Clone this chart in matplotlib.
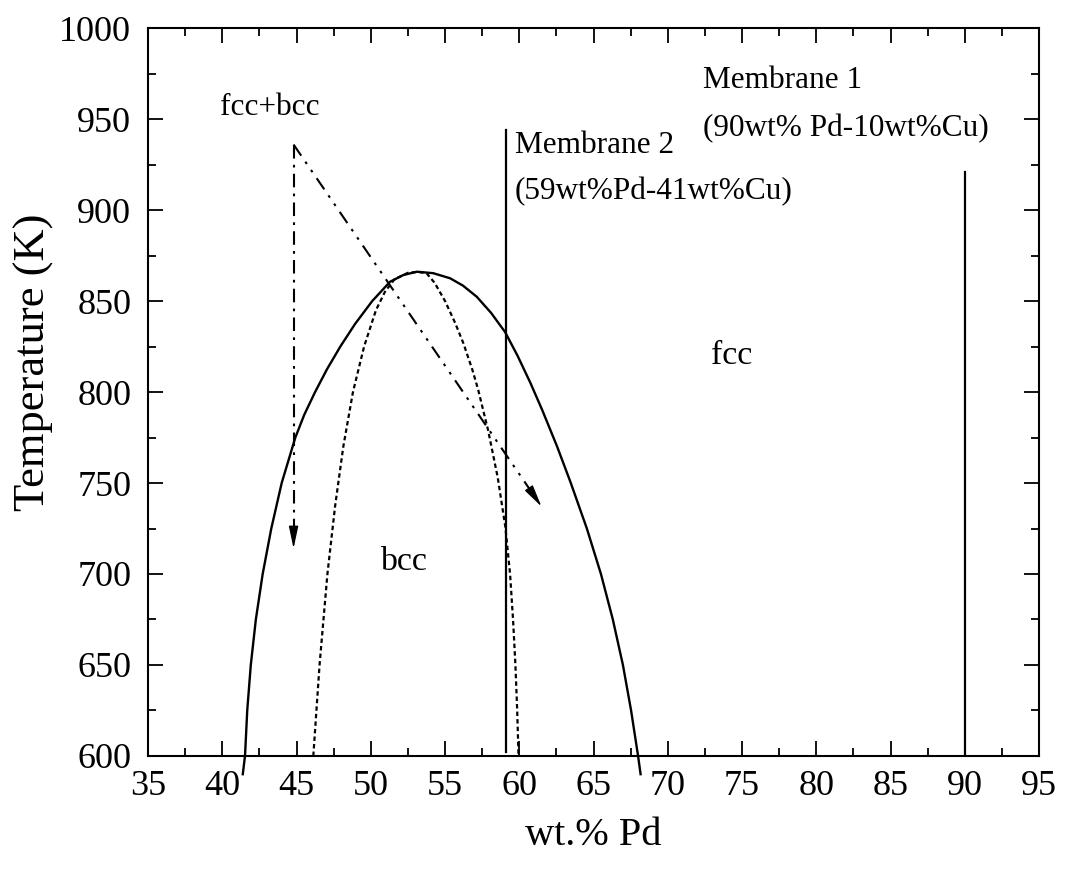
import matplotlib
matplotlib.use("Agg")
import matplotlib.pyplot as plt
from matplotlib.ticker import MultipleLocator

plt.rcParams['font.family'] = ['Liberation Serif', 'DejaVu Serif']

# Solid boundary curve (wt.% Pd, K)
solid_x = [41.38, 41.53, 41.68, 41.92, 42.26, 42.72, 43.3, 44.0, 44.92, 45.52, 46.25,
           47.05, 47.95, 48.95, 50.1, 51.3, 52.2, 53.1, 54.2, 55.34, 56.2, 57.13,
           58.1, 59.04, 59.88, 60.75, 61.55, 62.55, 63.47, 64.55, 65.5, 66.3, 66.98,
           67.53, 68.0, 68.17]
solid_T = [590, 600, 625, 650, 675, 700, 725, 750, 775, 787.5, 800,
           812.5, 825, 837.5, 850, 860.6, 864.3, 866.1, 865.3, 862.5, 858.5, 852.4,
           843.5, 833, 820, 805, 790, 770, 750, 725, 700, 675, 650,
           625, 600, 590]

# Dotted boundary curve
dot_x = [46.13, 46.55, 47.08, 47.6, 48.15, 48.8, 49.55, 50.35, 50.95, 51.6, 52.5, 53.2,
         53.76, 54.3, 55.0, 55.68, 56.24, 56.85, 57.24, 57.9, 58.55, 59.06, 59.38,
         59.58, 59.74, 59.86, 59.95]
dot_T = [600, 650, 700, 737.5, 770, 800, 825, 845, 855, 862, 865.5, 866,
         865.2, 860, 850, 838, 826.7, 812, 801, 779, 753, 726, 700,
         675, 650, 625, 600]

# Membrane composition lines
mem_x = [59.1, 90.0]
mem_top = [944, 921]
mem_bottom = [602, 600]

# Arrows (start -> end)
arrow_start = (44.8, 936)
arrow_v_end = (44.8, 714)
arrow_d_end = (61.5, 737)

fig = plt.figure(figsize=(10.65, 8.76), dpi=100)
ax = fig.add_axes([0.139, 0.137, 0.8366, 0.831])

ax.plot(solid_x, solid_T, color='black', lw=1.7, clip_on=False, zorder=3,
        solid_joinstyle='round')
ax.plot(dot_x, dot_T, color='black', lw=1.6, linestyle=(0, (2.0, 1.4)), zorder=3)

for x, t0, t1 in zip(mem_x, mem_bottom, mem_top):
    ax.plot([x, x], [t0, t1], color='black', lw=1.6, zorder=3)

# dash-dot arrow lines
ax.plot([arrow_start[0], arrow_v_end[0]], [arrow_start[1], arrow_v_end[1] + 8],
        color='black', lw=1.5, linestyle=(0, (6.5, 3, 1.3, 3)))
ax.plot([arrow_start[0], arrow_d_end[0] - 0.5], [arrow_start[1], arrow_d_end[1] + 6],
        color='black', lw=1.5, linestyle=(0, (6.5, 3.5, 1.3, 3.5, 1.3, 3.5)))
head = '-|>,head_length=0.85,head_width=0.18'
ax.annotate('', xy=arrow_v_end, xytext=(arrow_v_end[0], arrow_v_end[1] + 10),
            arrowprops=dict(arrowstyle=head, color='black', lw=1.0,
                            mutation_scale=16, shrinkA=0, shrinkB=0))
ax.annotate('', xy=arrow_d_end, xytext=(arrow_d_end[0] - 0.6, arrow_d_end[1] + 7.2),
            arrowprops=dict(arrowstyle=head, color='black', lw=1.0,
                            mutation_scale=16, shrinkA=0, shrinkB=0))

fs_ann = 22.5
ax.text(43.2, 956.6, 'fcc+bcc', fontsize=fs_ann, ha='center', va='center')
ax.text(59.7, 935.7, 'Membrane 2', fontsize=fs_ann, ha='left', va='center')
ax.text(59.7, 910, '(59wt%Pd-41wt%Cu)', fontsize=fs_ann, ha='left', va='center')
ax.text(72.4, 971, 'Membrane 1', fontsize=fs_ann, ha='left', va='center')
ax.text(72.4, 945, '(90wt% Pd-10wt%Cu)', fontsize=fs_ann, ha='left', va='center')
ax.text(74.3, 820, 'fcc', fontsize=fs_ann + 2, ha='center', va='center')
ax.text(52.2, 706.6, 'bcc', fontsize=fs_ann + 2, ha='center', va='center')

ax.set_xlim(35, 95)
ax.set_ylim(600, 1000)
ax.xaxis.set_major_locator(MultipleLocator(5))
ax.xaxis.set_minor_locator(MultipleLocator(2.5))
ax.yaxis.set_major_locator(MultipleLocator(50))
ax.yaxis.set_minor_locator(MultipleLocator(25))
ax.tick_params(which='both', direction='in', top=True, right=True, width=1.3)
ax.tick_params(which='major', length=11, labelsize=26)
ax.tick_params(which='minor', length=6)
ax.tick_params(axis='x', pad=10)
ax.tick_params(axis='y', pad=12)
for s in ax.spines.values():
    s.set_linewidth(1.5)

ax.set_xlabel('wt.% Pd', fontsize=29, labelpad=10)
ax.set_ylabel('Temperature (K)', fontsize=32, labelpad=6)
ax.yaxis.set_label_coords(-0.105, 0.541)

fig.savefig('out.png', dpi=100)
